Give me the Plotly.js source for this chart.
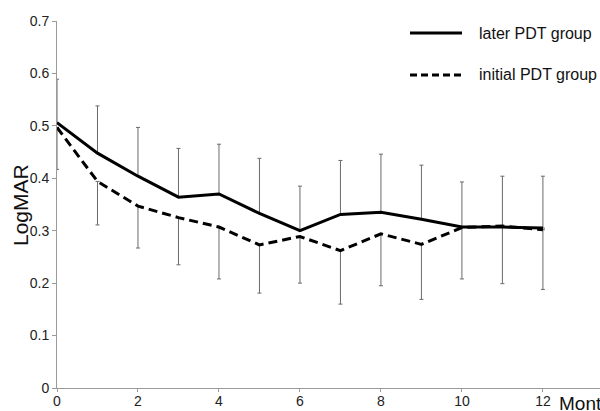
<!DOCTYPE html>
<html>
<head>
<meta charset="utf-8">
<script src="https://cdn.plot.ly/plotly-3.0.1.min.js"></script>
<style>html,body{margin:0;padding:0;background:#fff;}#chart{width:600px;height:411px;}</style>
</head>
<body>
<div id="chart"></div>
<script>
// Data
var months = [0, 1, 2, 3, 4, 5, 6, 7, 8, 9, 10, 11, 12];
var laterPDT = [0.506, 0.448, 0.404, 0.364, 0.370, 0.333, 0.300, 0.331, 0.335, 0.322, 0.307, 0.307, 0.305];
var laterErrUp = [0.083, 0.090, 0.093, 0.093, 0.095, 0.105, 0.085, 0.103, 0.111, 0.103, 0.086, 0.097, 0.099];
var initialPDT = [0.497, 0.394, 0.347, 0.325, 0.307, 0.273, 0.289, 0.262, 0.294, 0.274, 0.306, 0.309, 0.302];
var initialErrDown = [0.080, 0.083, 0.080, 0.090, 0.099, 0.092, 0.089, 0.102, 0.099, 0.105, 0.098, 0.110, 0.114];
var xTicks = [0, 2, 4, 6, 8, 10, 12];
var yTicks = [0, 0.1, 0.2, 0.3, 0.4, 0.5, 0.6, 0.7];
var yTickText = ['0', '0.1', '0.2', '0.3', '0.4', '0.5', '0.6', '0.7'];
var seriesNames = ['later PDT group', 'initial PDT group'];

var zeros = months.map(function () { return 0; });
var errStyle = {color: '#6a6a6a', thickness: 1, width: 2};

var traces = [
  {x: months, y: laterPDT, mode: 'markers', marker: {size: 1, opacity: 0}, hoverinfo: 'skip', showlegend: false,
   error_y: Object.assign({type: 'data', symmetric: false, array: laterErrUp, arrayminus: zeros, visible: true}, errStyle)},
  {x: months, y: initialPDT, mode: 'markers', marker: {size: 1, opacity: 0}, hoverinfo: 'skip', showlegend: false,
   error_y: Object.assign({type: 'data', symmetric: false, array: zeros, arrayminus: initialErrDown, visible: true}, errStyle)},
  {x: months, y: laterPDT, mode: 'lines', name: seriesNames[0], line: {color: '#000', width: 3}},
  {x: months, y: initialPDT, mode: 'lines', name: seriesNames[1], line: {color: '#000', width: 3, dash: '9px,5px'}}
];

var font = 'Liberation Sans, Arial, sans-serif';
var layout = {
  width: 600, height: 411,
  margin: {l: 57, r: 0, t: 21, b: 23},
  paper_bgcolor: '#fff', plot_bgcolor: '#fff',
  showlegend: false,
  font: {family: font, color: '#222', size: 14},
  xaxis: {
    range: [0, 13.41], tickvals: xTicks, ticktext: xTicks.map(String),
    showgrid: false, zeroline: false, showline: true, linecolor: '#9a9a9a', linewidth: 1,
    ticks: 'outside', ticklen: 3, tickcolor: '#9a9a9a', ticklabelstandoff: -3,
    tickfont: {size: 14, color: '#222'}
  },
  yaxis: {
    range: [0, 0.7], tickvals: yTicks, ticktext: yTickText,
    showgrid: false, zeroline: false, showline: true, linecolor: '#9a9a9a', linewidth: 1,
    ticks: 'outside', ticklen: 4, tickcolor: '#9a9a9a', tickfont: {size: 14, color: '#222'}
  },
  shapes: [
    {type: 'line', xref: 'paper', yref: 'paper', x0: (410 - 57) / 543, x1: (462 - 57) / 543,
     y0: (388 - 33) / 367, y1: (388 - 33) / 367, line: {color: '#000', width: 3}},
    {type: 'line', xref: 'paper', yref: 'paper', x0: (410 - 57) / 543, x1: (462 - 57) / 543,
     y0: (388 - 75) / 367, y1: (388 - 75) / 367, line: {color: '#000', width: 3, dash: '7px,4px'}}
  ],
  annotations: [
    {text: seriesNames[0], xref: 'paper', yref: 'paper', x: (477 - 57) / 543, y: (388 - 33) / 367,
     xanchor: 'left', yanchor: 'middle', showarrow: false, font: {size: 16, color: '#111'}},
    {text: seriesNames[1], xref: 'paper', yref: 'paper', x: (477 - 57) / 543, y: (388 - 75) / 367,
     xanchor: 'left', yanchor: 'middle', showarrow: false, font: {size: 16, color: '#111'}},
    {text: 'LogMAR', xref: 'paper', yref: 'paper', x: (20 - 57) / 543, y: (388 - 205) / 367,
     xanchor: 'center', yanchor: 'middle', textangle: -90, showarrow: false, font: {size: 21, color: '#111'}},
    {text: 'Month', xref: 'paper', yref: 'paper', x: (557 - 57) / 543, y: 0,
     xanchor: 'left', yanchor: 'top', yshift: -3, showarrow: false, font: {size: 19, color: '#111'}}
  ]
};

Plotly.newPlot('chart', traces, layout, {staticPlot: true, displayModeBar: false});
</script>
</body>
</html>
